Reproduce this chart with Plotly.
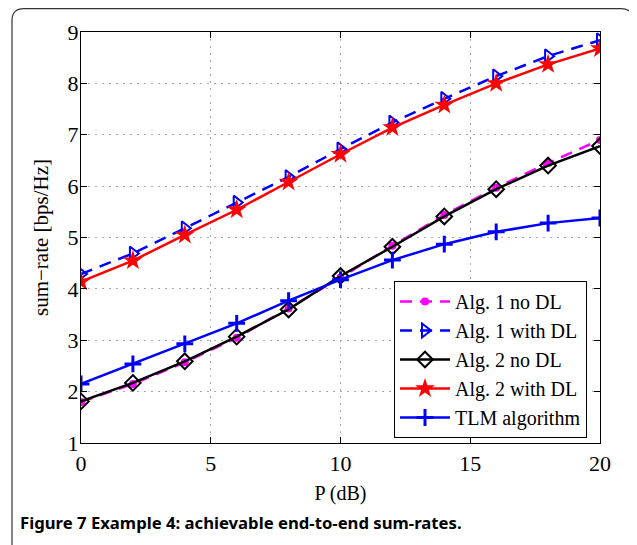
import plotly.graph_objects as go

P_dB = [0, 2, 4, 6, 8, 10, 12, 14, 16, 18, 20]
alg1_no_dl = [1.80, 2.15, 2.57, 3.05, 3.62, 4.22, 4.84, 5.44, 5.97, 6.45, 6.90]
alg1_with_dl = [4.29, 4.69, 5.18, 5.68, 6.18, 6.72, 7.24, 7.70, 8.14, 8.53, 8.84]
alg2_no_dl = [1.81, 2.17, 2.59, 3.07, 3.60, 4.25, 4.82, 5.41, 5.94, 6.40, 6.78]
alg2_with_dl = [4.14, 4.55, 5.05, 5.54, 6.08, 6.62, 7.14, 7.58, 8.00, 8.37, 8.68]
tlm = [2.15, 2.54, 2.93, 3.33, 3.77, 4.18, 4.56, 4.87, 5.11, 5.28, 5.38]

x_ticks = [0, 5, 10, 15, 20]
y_ticks = [1, 2, 3, 4, 5, 6, 7, 8, 9]

# page has an 8px body margin; compensate so the chart fills the window
OFF = 8
W, H = 637 - OFF, 545 - OFF
# target plot area in page pixels: x 81..600, y 32..443
ML = 81 - OFF
MT = 32 - OFF
pw, ph = 519, 411
MR = W - ML - pw
MB = H - MT - ph

def px(x):
    return (x - OFF - ML) / pw

def py(y):
    return (MT + ph - (y - OFF)) / ph

serif = "Liberation Serif, Times New Roman, serif"

fig = go.Figure()
fig.add_trace(go.Scatter(
    x=P_dB, y=alg1_no_dl, name="Alg. 1 no DL", mode="lines+markers",
    line=dict(color="#ff00ff", width=2.5, dash="12px,8px"),
    marker=dict(symbol="circle", size=8, color="#ff00ff")))
fig.add_trace(go.Scatter(
    x=P_dB, y=alg1_with_dl, name="Alg. 1 with DL", mode="lines+markers",
    line=dict(color="#0000ff", width=2.5, dash="12px,8px"),
    marker=dict(symbol="triangle-right-open", size=12, color="#0000ff",
                line=dict(width=2, color="#0000ff"))))
fig.add_trace(go.Scatter(
    x=P_dB, y=alg2_no_dl, name="Alg. 2 no DL", mode="lines+markers",
    line=dict(color="#000000", width=2.5),
    marker=dict(symbol="diamond-open", size=12, color="#000000",
                line=dict(width=2, color="#000000"))))
fig.add_trace(go.Scatter(
    x=P_dB, y=alg2_with_dl, name="Alg. 2 with DL", mode="lines+markers",
    line=dict(color="#ff0000", width=2.5),
    marker=dict(symbol="star", size=15, color="#ff0000",
                line=dict(width=0))))
fig.add_trace(go.Scatter(
    x=P_dB, y=tlm, name="TLM algorithm", mode="lines+markers",
    line=dict(color="#0000ff", width=2.5),
    marker=dict(symbol="cross-thin-open", size=12, color="#0000ff",
                line=dict(width=3, color="#0000ff"))))

axis_common = dict(
    showline=True, linecolor="black", linewidth=1.2, mirror="ticks",
    ticks="inside", ticklen=6, tickcolor="black", tickwidth=1,
    showgrid=True, gridcolor="#aaaaaa", griddash="2px,5px", gridwidth=1,
    zeroline=False, tickfont=dict(family=serif, size=22, color="black"),
    automargin=False,
)

fig.update_xaxes(range=[0, 20], tickvals=x_ticks, ticktext=[str(v) for v in x_ticks],
                 title=dict(text="P (dB)", font=dict(family=serif, size=20, color="black"),
                            standoff=11), **axis_common)
fig.update_yaxes(range=[1, 9], tickvals=y_ticks, ticktext=[str(v) for v in y_ticks],
                 ticklabelstandoff=-3,
                 title=dict(text="sum\u2212rate [bps/Hz]",
                            font=dict(family=serif, size=21, color="black"), standoff=13),
                 **axis_common)

# figure frame with rounded top corners
x0, x1 = px(12), px(633)
y_top = py(8.6)
y_bot = py(560)
r = 12
rx = r / pw
ry = r / ph
path = (f"M {x0},{y_bot} L {x0},{y_top - ry} Q {x0},{y_top} {x0 + rx},{y_top} "
        f"L {x1 - rx},{y_top} Q {x1},{y_top} {x1},{y_top - ry} L {x1},{y_bot}")
fig.add_shape(type="path", path=path, xref="paper", yref="paper",
              line=dict(color="#333333", width=1.2), layer="above")

fig.add_annotation(
    x=px(18), y=py(522), xref="paper", yref="paper", xanchor="left", yanchor="middle",
    text="<b>Figure 7</b> <b>Example 4: achievable end-to-end sum-rates.</b>",
    showarrow=False,
    font=dict(family="Noto Sans, sans-serif", size=16.7, color="black"))

fig.update_layout(
    width=W, height=H, autosize=False,
    margin=dict(l=ML, r=MR, t=MT, b=MB),
    plot_bgcolor="white", paper_bgcolor="white",
    showlegend=True,
    legend=dict(x=px(587), y=py(438), xanchor="right", yanchor="bottom",
                bgcolor="white", bordercolor="black", borderwidth=1,
                font=dict(family=serif, size=20, color="black"),
                tracegroupgap=0, itemwidth=50),
)

fig.write_html("out.html")
